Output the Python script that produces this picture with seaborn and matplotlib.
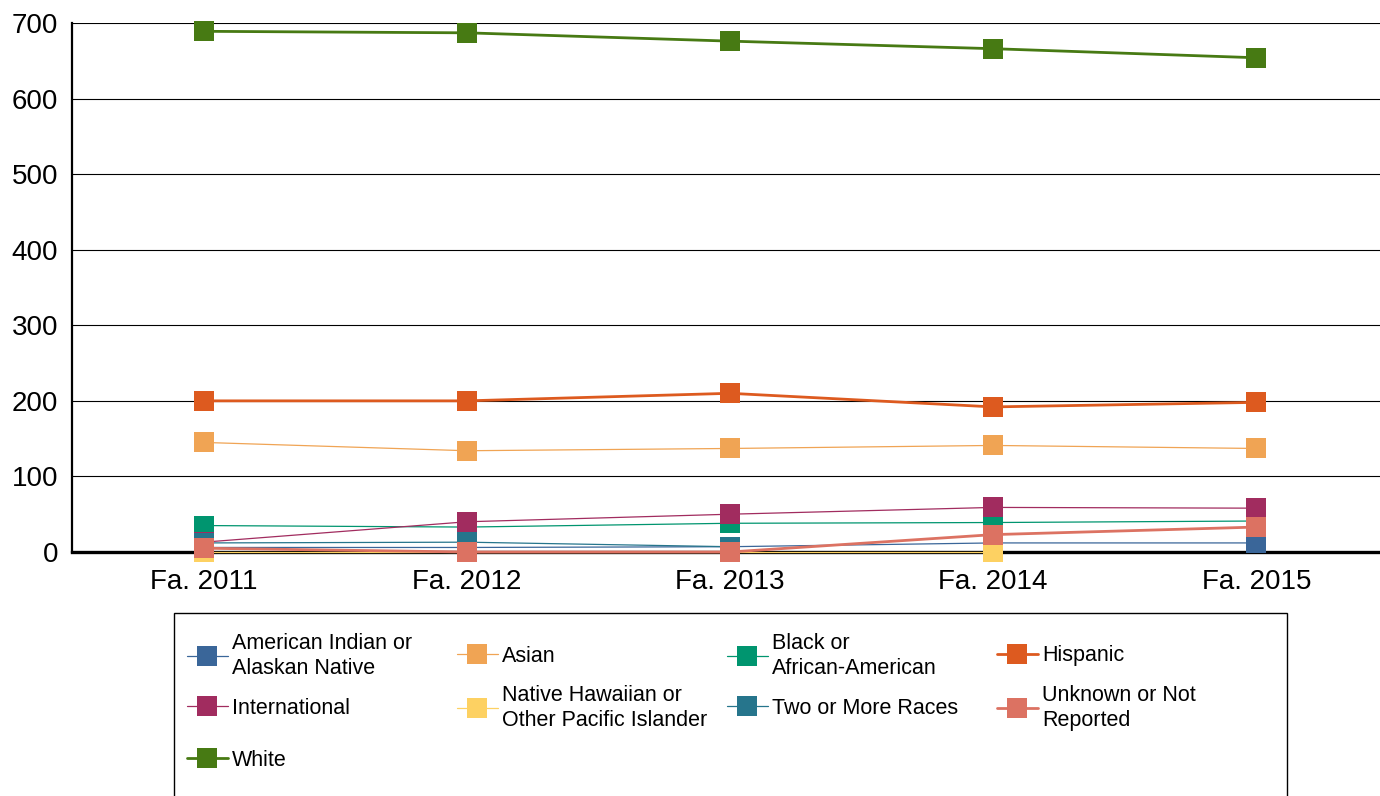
import numpy as np
import pandas as pd
import matplotlib
matplotlib.use("Agg")
import matplotlib.pyplot as plt
from matplotlib.lines import Line2D
from matplotlib.patches import Rectangle
import seaborn as sns

# Data
terms = ["Fa. 2011", "Fa. 2012", "Fa. 2013", "Fa. 2014", "Fa. 2015"]

american_indian = [6, 6, 7, 12, 12]
asian = [145, 134, 137, 141, 137]
black = [35, 33, 38, 39, 41]
hispanic = [200, 200, 210, 192, 198]
international = [13, 40, 50, 59, 58]
native_hawaiian = [0, 0, 0, 0, np.nan]
two_or_more = [12, 13, 7, np.nan, np.nan]
unknown = [5, 0, 0, 23, 33]
white = [689, 687, 676, 666, 654]

labels = [
    "American Indian or\nAlaskan Native",
    "Asian",
    "Black or\nAfrican-American",
    "Hispanic",
    "International",
    "Native Hawaiian or\nOther Pacific Islander",
    "Two or More Races",
    "Unknown or Not\nReported",
    "White",
]
series = [american_indian, asian, black, hispanic, international,
          native_hawaiian, two_or_more, unknown, white]
colors = ["#3a6699", "#f0a454", "#00956f", "#dd5a1f", "#a12c5f",
          "#fdd162", "#26758c", "#dc7262", "#477a13"]
widths = [0.9, 0.9, 0.9, 2.0, 0.9, 0.9, 0.9, 2.0, 2.0]

df = pd.DataFrame({lab: vals for lab, vals in zip(labels, series)})
df["term"] = terms
long = df.melt(id_vars="term", var_name="group", value_name="count")

sns.set_style("white")
plt.rcParams["font.family"] = ["Liberation Sans", "DejaVu Sans"]
plt.rcParams["text.color"] = "black"

W, H = 1380, 796
fig = plt.figure(figsize=(W / 100, H / 100), dpi=100)
ax = fig.add_axes([72 / W, 1 - 552 / H, (W - 72) / W, 529 / H])

for lab, col, lw in zip(labels, colors, widths):
    sub = long[long["group"] == lab].dropna()
    sns.lineplot(data=sub, x="term", y="count", ax=ax, color=col, linewidth=lw,
                 marker="s", markersize=15, markeredgewidth=0, sort=False,
                 clip_on=False, zorder=5, legend=False)

ax.set_xlim(-0.5, 4.47)
ax.set_ylim(0, 700)
ax.set_yticks(range(0, 701, 100))
ax.set_xlabel("")
ax.set_ylabel("")
ax.grid(axis="y", color="black", linewidth=0.8)
ax.grid(axis="x", visible=False)
ax.tick_params(axis="both", length=0, labelsize=20, colors="black")
ax.tick_params(axis="y", pad=10)
ax.tick_params(axis="x", pad=12)
for s in ["top", "right"]:
    ax.spines[s].set_visible(False)
ax.spines["left"].set_linewidth(1.6)
ax.spines["left"].set_color("black")
ax.spines["bottom"].set_linewidth(2.4)
ax.spines["bottom"].set_color("black")

# Legend: one entry per slot in a 4-column grid, inside a framed box
fig.patches.append(Rectangle((174 / W, 1 - 800 / H), (1287 - 174) / W, (800 - 613) / H,
                             transform=fig.transFigure, fill=False,
                             edgecolor="black", linewidth=1))
col_x = [187, 457, 727, 997]
row_y = [656, 708, 760]
for i, (lab, col, lw) in enumerate(zip(labels, colors, widths)):
    h = Line2D([], [], color=col, linewidth=lw, marker="s", markersize=15,
               markeredgewidth=0)
    fig.legend([h], [lab], loc="center left",
               bbox_to_anchor=(col_x[i % 4] / W, 1 - row_y[i // 4] / H),
               frameon=False, borderpad=0, borderaxespad=0,
               handlelength=1.9, handletextpad=0.2, fontsize=15.5,
               labelcolor="black")

fig.savefig("out.png", dpi=100)
